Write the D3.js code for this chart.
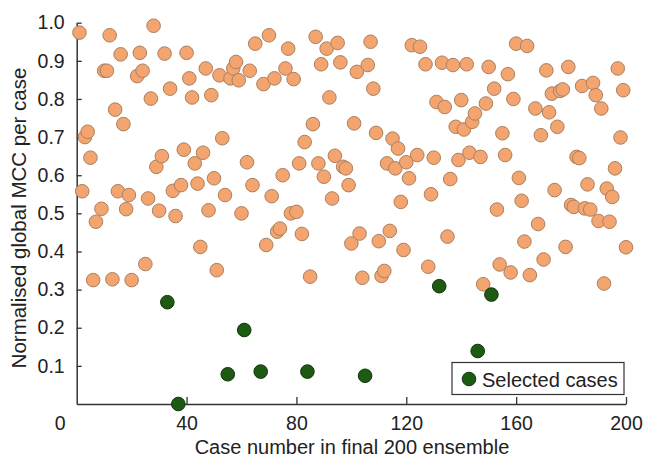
<!DOCTYPE html>
<html><head><meta charset="utf-8">
<script src="https://cdn.jsdelivr.net/npm/d3@7"></script>
<style>
html,body{margin:0;padding:0;background:#fff;}
text{font-family:"Liberation Sans",Arial,sans-serif;}
</style></head>
<body><svg id="c" width="646" height="457"></svg>
<script>
// Orange (all cases) — case numbers and normalised global MCC
const caseNums = [1,2,3,4,5,6,7,9,10,11,12,13,14,15,16,17,18,19,20,22,23,24,25,26,27,28,29,30,31,32,34,35,36,38,39,40,41,42,43,44,45,46,47,48,49,50,51,52,53,54,56,57,58,59,60,62,63,64,65,68,69,70,71,72,73,74,75,76,77,78,79,80,81,82,83,85,86,87,88,89,90,91,92,93,94,95,96,97,98,99,100,101,102,103,104,106,107,108,109,110,111,112,113,114,115,116,117,118,119,120,121,122,124,125,127,128,129,130,131,133,134,135,136,137,138,139,140,141,142,143,144,145,147,148,149,150,152,153,154,155,156,157,158,159,160,161,162,163,164,165,167,168,169,170,171,172,173,174,175,176,177,178,179,180,181,182,183,184,185,186,187,188,189,190,191,192,193,194,195,196,197,198,199,200];
const mccValues = [.974,.558,.70,.714,.646,.325,.478,.512,.874,.874,.967,.327,.772,.558,.917,.734,.511,.548,.325,.860,.921,.874,.367,.539,.801,.992,.622,.507,.650,.919,.827,.559,.493,.574,.667,.921,.854,.804,.631,.578,.412,.659,.880,.508,.81,.592,.351,.862,.697,.548,.854,.880,.897,.849,.50,.634,.874,.574,.945,.839,.417,.967,.545,.854,.452,.46,.60,.880,.932,.50,.852,.504,.631,.446,.687,.334,.734,.963,.631,.891,.596,.932,.804,.539,.651,.947,.896,.622,.618,.574,.421,.736,.871,.447,.331,.889,.950,.827,.711,.427,.336,.349,.631,.454,.696,.618,.670,.530,.404,.634,.592,.941,.653,.937,.891,.36,.55,.646,.792,.895,.779,.439,.590,.889,.727,.640,.797,.72,.891,.659,.74,.762,.648,.314,.788,.884,.827,.510,.366,.71,.653,.865,.345,.800,.945,.593,.533,.426,.939,.338,.775,.472,.705,.379,.875,.765,.814,.561,.727,.821,.825,.412,.884,.522,.517,.648,.645,.834,.513,.576,.510,.842,.81,.480,.775,.316,.565,.478,.543,.618,.88,.699,.823,.411];
// Selected cases
const selCases = [33,37,55,61,67,84,105,132,146,151];
const selValues = [.267,.0,.078,.194,.085,.085,.074,.309,.139,.287];
const xTicks = [0,40,80,120,160,200];
const yTicks = [0.1,0.2,0.3,0.4,0.5,0.6,0.7,0.8,0.9,1.0];
const legendLabel = "Selected cases";
const xTitle = "Case number in final 200 ensemble";
const yTitle = "Normalised global MCC per case";

const svg = d3.select("#c");
const x = d3.scaleLinear().domain([0,200]).range([76.7,626]);
const y = d3.scaleLinear().domain([0,1]).range([404,22.7]);

const all = caseNums.map((c,i)=>({c, v: mccValues[i]}));
const sel = selCases.map((c,i)=>({c, v: selValues[i]}));

const gx = svg.append("g").attr("transform","translate(0,404)")
  .call(d3.axisBottom(x).tickValues(xTicks).tickSizeInner(-7).tickSizeOuter(0).tickPadding(12).tickFormat(d3.format("d")));
gx.selectAll(".tick").filter(d=>d===0).select("line").remove();
gx.selectAll(".tick").filter(d=>d===0).select("text").attr("dx",-17);
const gy = svg.append("g").attr("transform","translate(76.7,0)")
  .call(d3.axisLeft(y).tickValues(yTicks).tickSizeInner(-5).tickSizeOuter(0).tickPadding(12).tickFormat(d3.format(".1f")));
[gx,gy].forEach(g=>{
  g.select(".domain").attr("stroke","#333").attr("stroke-width",1.5);
  g.selectAll(".tick line").attr("stroke","#333").attr("stroke-width",1.3);
  g.selectAll(".tick text").attr("fill","#222").style("font-size","19.5px").style("font-family","'Liberation Sans',Arial,sans-serif");
});

svg.append("g").selectAll("circle").data(all).join("circle")
  .attr("cx",d=>x(d.c)).attr("cy",d=>y(d.v)).attr("r",6.8)
  .attr("fill","#f4a46e").attr("stroke","#a9805f").attr("stroke-width",1);
svg.append("g").selectAll("circle").data(sel).join("circle")
  .attr("cx",d=>x(d.c)).attr("cy",d=>y(d.v)).attr("r",6.8)
  .attr("fill","#1d5a12").attr("stroke","#0e330a").attr("stroke-width",1);

// legend
const lg = svg.append("g");
lg.append("rect").attr("x",452).attr("y",362.5).attr("width",172).attr("height",32)
  .attr("fill","#fff").attr("stroke","#333").attr("stroke-width",1.2);
lg.append("circle").attr("cx",469).attr("cy",379).attr("r",6.8).attr("fill","#1d5a12").attr("stroke","#0e330a");
lg.append("text").attr("x",482).attr("y",386.5).text(legendLabel).style("font-size","20px").attr("fill","#222");

svg.append("text").attr("x",352).attr("y",454).attr("text-anchor","middle")
  .style("font-size","20px").attr("fill","#222").text(xTitle);
svg.append("text").attr("transform","translate(26,218) rotate(-90)").attr("text-anchor","middle")
  .style("font-size","20.5px").attr("fill","#222").text(yTitle);
</script></body></html>
